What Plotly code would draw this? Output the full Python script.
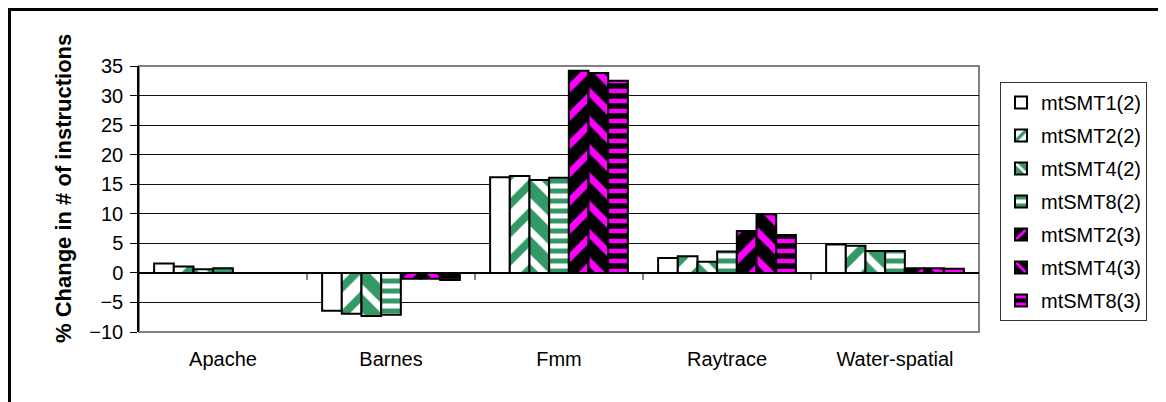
import plotly.graph_objects as go

categories = ["Apache", "Barnes", "Fmm", "Raytrace", "Water-spatial"]
series_names = ["mtSMT1(2)", "mtSMT2(2)", "mtSMT4(2)", "mtSMT8(2)",
                "mtSMT2(3)", "mtSMT4(3)", "mtSMT8(3)"]
mtSMT1_2 = [1.6, -6.4, 16.2, 2.5, 4.8]
mtSMT2_2 = [1.1, -6.9, 16.4, 2.8, 4.6]
mtSMT4_2 = [0.6, -7.3, 15.7, 1.9, 3.7]
mtSMT8_2 = [0.8, -7.1, 16.1, 3.6, 3.7]
mtSMT2_3 = [None, -1.0, 34.2, 7.1, 0.8]
mtSMT4_3 = [None, -1.0, 33.8, 9.9, 0.8]
mtSMT8_3 = [None, -1.2, 32.5, 6.4, 0.7]
y_ticks = [-10, -5, 0, 5, 10, 15, 20, 25, 30, 35]

values = [mtSMT1_2, mtSMT2_2, mtSMT4_2, mtSMT8_2, mtSMT2_3, mtSMT4_3, mtSMT8_3]

GREEN = "#339966"
MAG = "#FF00FF"
styles = [
    dict(bg="white", fg="white", shape="", size=10, sol=0.3),
    dict(bg="white", fg=GREEN, shape="/", size=20, sol=0.4),
    dict(bg=GREEN, fg="white", shape="\\", size=20, sol=0.35),
    dict(bg="white", fg=GREEN, shape="-", size=10, sol=0.5),
    dict(bg="black", fg=MAG, shape="/", size=20, sol=0.35),
    dict(bg="black", fg=MAG, shape="\\", size=20, sol=0.35),
    dict(bg="black", fg=MAG, shape="-", size=10, sol=0.45),
]

FONT = "Arial, Liberation Sans, sans-serif"

fig = go.Figure()
for i, (name, vals, st) in enumerate(zip(series_names, values, styles)):
    fig.add_trace(go.Bar(
        x=categories, y=vals, name=name, legendgroup=f"g{i}",
        marker=dict(
            color=st["bg"],
            line=dict(color="black", width=2),
            pattern=dict(shape=st["shape"], fgcolor=st["fg"], bgcolor=st["bg"],
                         size=st["size"], solidity=st["sol"], fillmode="replace"),
        ),
    ))

# screen coordinates of the plot area; page body adds an 8px offset
OFF = 8
L, R, T, B = 139, 979, 66, 332
W, H = 1166 - OFF, 402 - OFF
pw, ph = R - L, B - T
ml, mt = L - OFF, T - OFF

shapes = []
# plot area border (gray)
shapes.append(dict(type="rect", xref="paper", yref="paper", x0=0, y0=0, x1=1, y1=1,
                   line=dict(color="#808080", width=2), layer="below"))
# category tick marks at zero line
for k in range(1, len(categories)):
    shapes.append(dict(type="line", xref="x", yref="y", x0=k - 0.5, x1=k - 0.5,
                       y0=0, y1=-1.2, line=dict(color="black", width=1)))
# outer chart border (at the figure's top-left edge)
shapes.append(dict(type="rect", xref="paper", yref="paper",
                   x0=(1.5 - ml) / pw, y0=-2, x1=2, y1=1 + (mt - 1.5) / ph,
                   line=dict(color="black", width=3), layer="below"))

fig.update_layout(
    width=W, height=H,
    margin=dict(l=ml, r=W - (R - OFF), t=mt, b=H - (B - OFF)),
    paper_bgcolor="white", plot_bgcolor="white",
    barmode="group", bargap=0.18, bargroupgap=0,
    font=dict(family=FONT, size=20, color="black"),
    showlegend=True,
    legend=dict(
        x=(1000 - L) / pw, y=(B - 82) / ph, xanchor="left", yanchor="top",
        bordercolor="#333", borderwidth=1, bgcolor="white",
        font=dict(family=FONT, size=20, color="black"),
        tracegroupgap=4, traceorder="grouped",
    ),
    shapes=shapes,
    annotations=[dict(
        text="<b>% Change in # of instructions</b>", textangle=-90,
        xref="paper", yref="paper", x=(63 - L) / pw, y=(B - 189) / ph,
        xanchor="center", yanchor="middle", showarrow=False,
        font=dict(family=FONT, size=22, color="black"),
    )],
)
fig.update_xaxes(type="category", showgrid=False, ticks="", showline=False,
                 ticklabelstandoff=13, tickfont=dict(size=20))
fig.update_yaxes(range=[-10, 35], tickvals=y_ticks, showgrid=True, gridcolor="#111",
                 gridwidth=1, zeroline=True, zerolinecolor="black", zerolinewidth=1.5,
                 showline=True, linecolor="black", linewidth=1.5,
                 ticks="outside", ticklen=7, tickcolor="black",
                 ticklabelstandoff=3, tickfont=dict(size=20))

fig.write_html("out.html")
